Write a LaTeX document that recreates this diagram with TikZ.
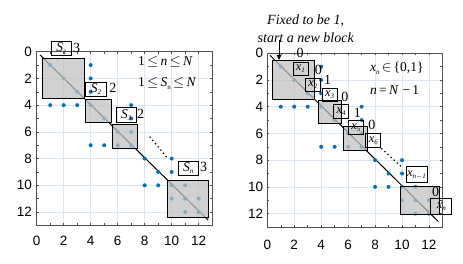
\documentclass[tikz,border=0pt]{standalone}
\usepackage{fontspec}
\setmainfont{Liberation Serif}
\newfontfamily\ticksf{Liberation Sans}
\usetikzlibrary{arrows.meta}
\definecolor{mblue}{HTML}{0072BD}
\definecolor{gridc}{HTML}{DCE6F0}
\definecolor{framec}{HTML}{505050}
\definecolor{blockc}{gray}{0.757}
\newcommand\mysub[1]{\raisebox{-0.35ex}{\fontsize{7}{7}\selectfont #1}}
\newcommand\myaxes[3]{%
  \foreach \t in {2,4,...,12}{%
    \draw[gridc, line width=0.5pt] (\t,0) -- (\t,13);
    \draw[gridc, line width=0.5pt] (0,\t) -- (13,\t);
  }%
  \foreach \t in {1,...,12}{%
    \draw[framec, line width=0.5pt] (\t,13) -- ++(0,-0.16);
    \draw[framec, line width=0.5pt] (\t,0) -- ++(0,0.16);
    \draw[framec, line width=0.5pt] (0,\t) -- ++(0.16,0);
    \draw[framec, line width=0.5pt] (13,\t) -- ++(-0.16,0);
  }%
  \draw[framec, line width=0.6pt] (0,0) rectangle (13,13);
  \foreach \t in {0,2,...,12}{%
    \node[tick, anchor=east] (#1y\t) at (#2,\t) {\t};
    \node[tick] (#1x\t) at (\t,#3) {\t};
  }%
}
\newcommand\mydots{%
  \foreach \p in {(4,1),(4,2),(4,3),(1,4),(2,4),(3,4),(1,1),(2,2),(3,3),(4,4),(5,5),(7,4),(7,5),(6,6),(7,6),(4,7),(5,7),(6,7),(7,7),(8,8),(10,8),(9,9),(10,9),(8,10),(9,10),(10,10),(11,10),(10,11),(11,11),(12,11),(11,12),(12,12)}{%
    \fill[mblue] \p circle (2pt);
  }%
}
\tikzset{
  blk/.style={draw=black, line width=0.9pt, fill=blockc, fill opacity=0.74},
  lbl/.style={draw=black, line width=0.7pt, inner sep=0pt, font=\fontsize{13.5}{13.5}\selectfont},
  slbl/.style={lbl, minimum width=20.5pt, minimum height=14.5pt},
  xlbl/.style={lbl, minimum width=15pt, minimum height=13.5pt, font=\fontsize{12.5}{12.5}\selectfont},
  wlbl/.style={lbl, minimum width=21pt, minimum height=16pt, font=\fontsize{12.5}{12.5}\selectfont},
  num/.style={inner sep=0pt, font=\fontsize{14}{14}\selectfont},
  tick/.style={inner sep=0pt, font=\ticksf\fontsize{13.5}{13.5}\selectfont},
  txt/.style={inner sep=0pt, anchor=west, font=\fontsize{13.5}{13.5}\selectfont},
  diag/.style={black, line width=1pt},
  dotline/.style={line width=1.8pt, line cap=round, dash pattern=on 0pt off 4.2pt},
  anno/.style={inner sep=0pt, anchor=base, font=\fontsize{14}{14}\selectfont\itshape},
}
\begin{document}
\begin{tikzpicture}
\useasboundingbox (0,0) rectangle (463pt,-264pt);
% ---------------- left plot ----------------
\begin{scope}[xshift=36.7pt, yshift=-51.7pt, x=13.5pt, y=-13.36pt]
  \myaxes{L}{-0.35}{14.15}
  \draw[diag] (0.25,0.25) -- (12.7,12.6);
  \mydots
  \draw[blk] (0.4,0.5) rectangle (3.5,3.5);
  \draw[blk] (3.6,3.55) rectangle (5.5,5.3);
  \draw[blk] (5.6,5.45) rectangle (7.45,7.25);
  \draw[blk] (9.7,9.6) rectangle (12.7,12.4);
  \draw[dotline] (8.4,6.4) -- (9.6,7.85);
  \node[slbl] (s1) at (1.83,-0.24) {\itshape S\mysub{1}};
  \node[slbl] (s2) at (4.39,2.80) {\itshape S\mysub{2}};
  \node[slbl] (s3) at (6.63,4.72) {\itshape S\mysub{3}};
  \node[slbl] (sn) at (11.23,8.73) {\itshape S\mysub{n}};
  \node[num] (n1) at (2.96,-0.25) {3};
  \node[num] (n2) at (5.65,2.74) {2};
  \node[num] (n3) at (7.70,4.64) {2};
  \node[num] (n4) at (12.37,8.63) {3};
  \node[txt] (c1) at (7.5,0.75) {1\,$\le$\,{\itshape n}\,$\le$\,{\itshape N}};
  \node[txt] (c2) at (7.5,2.37) {1\,$\le$\,{\itshape S}\mysub{n}\,$\le$\,{\itshape N}};
\end{scope}
% ---------------- right plot ----------------
\begin{scope}[xshift=267.3pt, yshift=-53.3pt, x=13.47pt, y=-13.36pt]
  \myaxes{R}{-0.3}{14.35}
  \draw[diag] (0.2,0.15) -- (12.7,12.6);
  \mydots
  \draw[blk] (0.4,0.5) rectangle (3.5,3.45);
  \draw[blk] (3.8,3.5) rectangle (5.5,5.25);
  \draw[blk] (5.65,5.5) rectangle (7.4,7.25);
  \draw[blk] (9.9,10) rectangle (12.8,12.05);
  \draw[dotline] (8.5,7.15) -- (9.9,8.45);
  \node[xlbl] (x1) at (2.46,1.16) {\itshape x\mysub{1}};
  \node[xlbl] (x2) at (3.38,2.35) {\itshape x\mysub{2}};
  \node[xlbl] (x3) at (4.62,3.12) {\itshape x\mysub{3}};
  \node[xlbl] (x4) at (5.48,4.34) {\itshape x\mysub{4}};
  \node[xlbl] (x5) at (6.57,5.54) {\itshape x\mysub{5}};
  \node[xlbl] (x6) at (7.87,6.52) {\itshape x\mysub{6}};
  \node[wlbl] (xm) at (11.08,9.09) {\itshape x\mysub{n$-$1}};
  \node[wlbl] (xn) at (12.92,11.45) {\itshape x\mysub{n}};
  \node[num] (m1) at (2.43,-0.05) {0};
  \node[num] (m2) at (3.79,1.27) {0};
  \node[num] (m3) at (4.48,2.02) {1};
  \node[num] (m4) at (5.75,3.25) {0};
  \node[num] (m5) at (6.68,4.45) {1};
  \node[num] (m6) at (7.77,5.36) {0};
  \node[num] (m7) at (12.5,10.4) {0};
  \node[txt] (d1) at (7.62,1.12) {{\itshape x}\mysub{\itshape n}\,$\in$\,\{0,1\}};
  \node[txt] (d2) at (7.62,2.75) {{\itshape n}\,=\,{\itshape N}\,\,−\,1};
  \node[anno] (fix1) at (2.85,-2.19) {Fixed to be 1,};
  \node[anno] (fix2) at (2.85,-0.79) {start a new block};
  \coordinate (tipA) at (0.87,0.5);
  \draw[line width=0.8pt, -{Triangle[length=5pt,width=4.5pt]}] ([yshift=3pt]fix2.base -| tipA) -- (tipA);
\end{scope}
\end{tikzpicture}
\end{document}
